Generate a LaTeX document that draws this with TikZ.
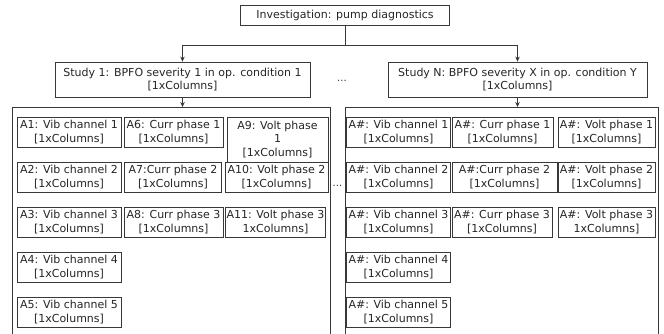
\documentclass[tikz,border=0pt]{standalone}
\usepackage{fontspec}
\setmainfont{DejaVu Sans}
\usetikzlibrary{arrows.meta}
\newcommand{\colsz}{{[}1xColumns{]}}
\tikzset{
  x=1pt, y=-1pt,
  ln/.style={draw=black!78, line width=0.8pt},
  box/.style={ln, fill=white, align=center, inner sep=1pt, text=black!85,
              font=\fontsize{11}{13.5}\selectfont},
  cell/.style={box, minimum width=#1, minimum height=30pt},
  arr/.style={ln, -{Stealth[length=5pt,width=4.5pt]}},
  gap/.style={inner sep=0pt, text=black!80, font=\fontsize{10}{12}\selectfont}
}
\begin{document}
\begin{tikzpicture}
\useasboundingbox (0,0) rectangle (664,334);

% root and the two studies
\node[box, minimum width=209pt, minimum height=20pt] (top) at (345,15) {Investigation: pump diagnostics};
\node[box, minimum width=255pt, minimum height=35pt] (s1) at (182.5,79.5)
  {Study 1: BPFO severity 1 in op. condition 1\\ \colsz};
\node[box, minimum width=259pt, minimum height=35pt] (sN) at (517.5,79.5)
  {Study N: BPFO severity X in op. condition Y\\ \colsz};
\node[gap] (d1) at (342,81) {...};

% branching connector
\coordinate (jn) at (345,45);
\coordinate (j1) at (s1.north |- jn);
\coordinate (jN) at (sN.north |- jn);
\draw[ln] (top.south) -- (jn);
\draw[ln] (j1) -- (jN);
\draw[arr] (j1) -- (s1.north);
\draw[arr] (jN) -- (sN.north);

% open frames holding the signal columns
\coordinate (f1l) at (12,107);  \coordinate (f1r) at (330,107);
\coordinate (fNl) at (345,107); \coordinate (fNr) at (658,107);
\draw[ln] (12,336) -- (f1l) -- (f1r) -- (330,336);
\draw[ln] (345,336) -- (fNl) -- (fNr) -- (658,336);
\draw[arr] (s1.south) -- (s1.south |- f1l);
\draw[arr] (sN.south) -- (sN.south |- fNl);
\node[gap] (d2) at (337.5,186) {...};

% study 1 columns
\node[cell=104pt] (a1) at (69,132)  {A1: Vib channel 1\\ \colsz};
\node[cell=104pt] (a2) at (69,177)  {A2: Vib channel 2\\ \colsz};
\node[cell=104pt] (a3) at (69,222)  {A3: Vib channel 3\\ \colsz};
\node[cell=104pt] (a4) at (69,267)  {A4: Vib channel 4\\ \colsz};
\node[cell=104pt] (a5) at (69,312)  {A5: Vib channel 5\\ \colsz};
\node[cell=99pt]  (a6) at (173.5,132) {A6: Curr phase 1\\ \colsz};
\node[cell=97pt]  (a7) at (173,177)   {A7:Curr phase 2\\ \colsz};
\node[cell=99pt]  (a8) at (173.5,222) {A8: Curr phase 3\\ \colsz};
\node[box, minimum width=101pt, minimum height=45pt] (a9) at (277.5,139.5) {A9: Volt phase\\1\\ \colsz};
\node[cell=103pt] (a10) at (276.5,177) {A10: Volt phase 2\\ \colsz};
\node[cell=99pt]  (a11) at (275.5,222) {A11: Volt phase 3\\1xColumns{]}};

% study N columns
\node[cell=104pt] (b1) at (398.5,132) {A\#: Vib channel 1\\ \colsz};
\node[cell=104pt] (b2) at (398.5,177) {A\#: Vib channel 2\\ \colsz};
\node[cell=104pt] (b3) at (398.5,222) {A\#: Vib channel 3\\ \colsz};
\node[cell=104pt] (b4) at (398.5,267) {A\#: Vib channel 4\\ \colsz};
\node[cell=104pt] (b5) at (398.5,312) {A\#: Vib channel 5\\ \colsz};
\node[cell=101pt] (b6) at (502.5,132) {A\#: Curr phase 1\\ \colsz};
\node[cell=105pt] (b7) at (504.5,177) {A\#:Curr phase 2\\ \colsz};
\node[cell=100pt] (b8) at (502,222)   {A\#: Curr phase 3\\ \colsz};
\node[cell=97pt]  (b9) at (606.5,132) {A\#: Volt phase 1\\ \colsz};
\node[cell=97pt]  (b10) at (606.5,177) {A\#: Volt phase 2\\ \colsz};
\node[cell=97pt]  (b11) at (606.5,222) {A\#: Volt phase 3\\1xColumns{]}};
\end{tikzpicture}
\end{document}
